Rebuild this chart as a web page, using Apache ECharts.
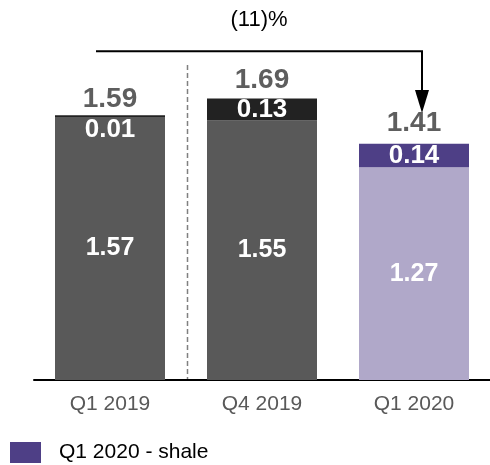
<!DOCTYPE html>
<html>
<head>
<meta charset="utf-8">
<script src="https://cdn.jsdelivr.net/npm/echarts@6/dist/echarts.min.js"></script>
<style>
    html, body { margin: 0; padding: 0; background: #fff; }
    #chart { width: 490px; height: 465px; }
</style>
</head>
<body>
<div id="chart"></div>
<script>
const categories = ['Q1 2019', 'Q4 2019', 'Q1 2020']
const baseValues = [1.57, 1.55, 1.27]
const shaleValues = [0.01, 0.13, 0.14]
const totals = [1.59, 1.69, 1.41]
const changeLabel = '(11)%'
const legendName = 'Q1 2020 - shale'

const FONT = '"Liberation Sans", Arial, sans-serif'
const baseColors = ['#595959', '#595959', '#b0a8c9']
const shaleColors = ['#222222', '#222222', '#4e3f86']
const totalGaps = [0, 2, 6]

const chart = echarts.init(document.getElementById('chart'))

chart.setOption({
    animation: false,
    grid: { left: 34, right: -3, top: 45, bottom: 85 },
    legend: {
        left: 10, top: 442, padding: 0,
        itemWidth: 31, itemHeight: 21, itemGap: 10,
        data: [{ name: legendName, icon: 'rect', itemStyle: { color: '#4e3f86' } }],
        textStyle: { color: '#000', fontSize: 21, fontFamily: FONT, padding: [0, 0, 0, 13] },
    },
    xAxis: {
        type: 'category',
        data: categories,
        axisLine: { lineStyle: { color: '#000', width: 2 } },
        axisTick: { show: false },
        axisLabel: { color: '#595959', fontSize: 21, fontFamily: FONT, margin: 14 },
    },
    yAxis: { type: 'value', min: 0, max: 2, show: false },
    series: [
        {
            type: 'bar',
            stack: 'q',
            barWidth: 110,
            data: baseValues.map((v, i) => ({ value: v, itemStyle: { color: baseColors[i] } })),
            label: {
                show: true, position: 'inside', color: '#fff',
                fontSize: 25, fontWeight: 'bold', fontFamily: FONT,
            },
        },
        {
            type: 'bar',
            stack: 'q',
            name: legendName,
            barWidth: 110,
            data: shaleValues.map((v, i) => {
                const d = { value: v, itemStyle: { color: shaleColors[i] } }
                // tiny segment: label sits inside the bar below
                if (v < 0.05) d.label = { position: 'insideTop', offset: [0, -4] }
                return d
            }),
            label: {
                show: true, position: 'inside', color: '#fff',
                fontSize: 26, fontWeight: 'bold', fontFamily: FONT,
            },
        },
        {
            // totals above each bar
            type: 'scatter',
            symbolSize: 1,
            itemStyle: { color: 'rgba(0,0,0,0)', opacity: 1 },
            data: totals.map((v, i) => ({ value: [categories[i], v], label: { distance: totalGaps[i] } })),
            label: {
                show: true, position: 'top', color: '#5e5e5e', opacity: 1,
                fontSize: 28, fontWeight: 'bold', fontFamily: FONT,
                formatter: p => totals[p.dataIndex].toFixed(2),
            },
        },
    ],
})

// annotation: bracket arrow from Q1 2019 to Q1 2020, dashed divider
const px = (cat, v) => chart.convertToPixel({ gridIndex: 0 }, [cat, v])
const lineTop = px(categories[0], 1.963)
const arrowEnd = px(categories[2], 1.594)
const x0 = lineTop[0] - 14
const x1 = arrowEnd[0] + 8
const y0 = lineTop[1]
const tipY = arrowEnd[1]
const divA = px(categories[0], 1.88)
const divB = px(categories[1], 0)
const divX = (divA[0] + divB[0]) / 2 + 1.5

chart.setOption({
    graphic: [
        {
            type: 'polyline',
            shape: { points: [[x0, y0], [x1, y0], [x1, tipY - 20]] },
            style: { stroke: '#000', lineWidth: 2, fill: null },
        },
        {
            type: 'polygon',
            shape: { points: [[x1 - 7, tipY - 23], [x1 + 7, tipY - 23], [x1, tipY]] },
            style: { fill: '#000' },
        },
        {
            type: 'text',
            x: (x0 + x1) / 2, y: 20,
            style: {
                text: changeLabel, fill: '#000', fontSize: 22, fontFamily: FONT,
                align: 'center', verticalAlign: 'middle',
            },
        },
        {
            type: 'line',
            shape: { x1: divX, y1: divA[1], x2: divX, y2: divB[1] },
            style: { stroke: '#808080', lineWidth: 1.5, lineDash: [5, 3] },
        },
    ],
})
</script>
</body>
</html>
